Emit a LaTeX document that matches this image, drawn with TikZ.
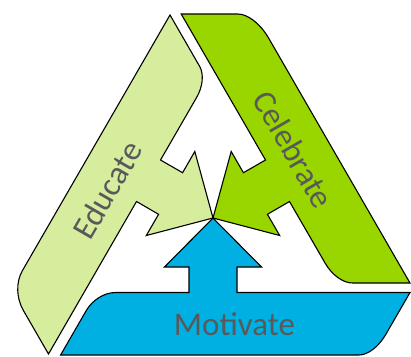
\documentclass[tikz,border=0pt]{standalone}
\usepackage{fontspec}
\setmainfont{Carlito}
\usetikzlibrary{calc}
\definecolor{edfill}{RGB}{214,237,158}
\definecolor{cefill}{RGB}{153,214,0}
\definecolor{mofill}{RGB}{0,176,226}
\definecolor{txtgray}{RGB}{89,89,89}
\begin{document}
\begin{tikzpicture}[x=1pt,y=-1pt,
  band/.style={draw=black,line width=1.1pt,line join=miter},
  lbl/.style={text=txtgray,font=\fontsize{33}{33}\selectfont,inner sep=0pt,text height=21pt,text depth=0pt}]
\useasboundingbox (0,0) rectangle (411,356);
% common arrow tip
\coordinate (T) at (213,218);
% ---- Motivate (bottom)
\coordinate (M1) at (410,292.5);
\coordinate (M2) at (237,292.5);
\coordinate (M3) at (237,267);
\coordinate (M4) at (261.5,267);
\coordinate (M5) at (164.5,267);
\coordinate (M6) at (189,267);
\coordinate (M7) at (189,292.5);
\coordinate (ML1) at (96.7,292.5);
\coordinate (ML2) at (60.6,355);
\coordinate (MR2) at (373.9,355);
\fill[mofill] (M1) -- (M2) -- (M3) -- (M4) -- (T) -- (M5) -- (M6) -- (M7)
  -- ($(ML1)!19pt!(M7)$) .. controls ($(ML1)!7.5pt!(M7)$) and ($(ML1)!8.5pt!(ML2)$) .. ($(ML1)!21pt!(ML2)$)
  -- (ML2)
  -- ($(MR2)!15pt!(ML2)$) .. controls ($(MR2)!6pt!(ML2)$) and ($(MR2)!9.5pt!(M1)$) .. ($(MR2)!24pt!(M1)$)
  -- cycle;
\draw[band] (M1) -- (M2) -- (M3) -- (M4) -- (T) -- (M5) -- (M6) -- (M7)
  -- ($(ML1)!19pt!(M7)$) .. controls ($(ML1)!7.5pt!(M7)$) and ($(ML1)!8.5pt!(ML2)$) .. ($(ML1)!21pt!(ML2)$)
  -- (ML2)
  -- ($(MR2)!15pt!(ML2)$) .. controls ($(MR2)!6pt!(ML2)$) and ($(MR2)!9.5pt!(M1)$) .. ($(MR2)!24pt!(M1)$)
  -- cycle;
% ---- Celebrate (right)
\coordinate (C1) at (181.2,14);
\coordinate (C2) at (254.7,14);
\coordinate (C3) at (410,283);
\coordinate (C4) at (336.6,283);
\coordinate (C5) at (289.5,201.5);
\coordinate (C6) at (267.4,214.3);
\coordinate (C7) at (279.7,235.5);
\coordinate (C8) at (231.2,151.5);
\coordinate (C9) at (243.4,172.7);
\coordinate (C10) at (265.5,160);
\draw[band,fill=cefill] (C1)
  -- ($(C2)!17pt!(C1)$) .. controls ($(C2)!7pt!(C1)$) and ($(C2)!11pt!(C3)$) .. ($(C2)!28pt!(C3)$)
  -- (C3)
  -- ($(C4)!16pt!(C3)$) .. controls ($(C4)!6.5pt!(C3)$) and ($(C4)!9pt!(C5)$) .. ($(C4)!23pt!(C5)$)
  -- (C5) -- (C6) -- (C7) -- (T) -- (C8) -- (C9) -- (C10) -- cycle;
% ---- Educate (left)
\coordinate (E1) at (170,15);
\coordinate (E2) at (207.1,79.3);
\coordinate (E3) at (160.5,160);
\coordinate (E4) at (182.6,172.7);
\coordinate (E5) at (194.8,151.5);
\coordinate (E6) at (146.3,235.5);
\coordinate (E7) at (158.6,214.3);
\coordinate (E8) at (136.5,201.5);
\coordinate (E9) at (48.5,354);
\coordinate (E10) at (11.4,289.7);
\draw[band,fill=edfill] (E1)
  -- ($(E2)!15pt!(E1)$) .. controls ($(E2)!6pt!(E1)$) and ($(E2)!8.5pt!(E3)$) .. ($(E2)!21pt!(E3)$)
  -- (E3) -- (E4) -- (E5) -- (T) -- (E6) -- (E7) -- (E8) -- (E9)
  -- ($(E10)!24pt!(E9)$) .. controls ($(E10)!9.5pt!(E9)$) and ($(E10)!9pt!(E1)$) .. ($(E10)!22pt!(E1)$)
  -- cycle;
% ---- labels
\node[lbl] (tmot) at (234.5,325.3) {Motivate};
\node[lbl,rotate=60] (tedu) at (108,190.5) {Educate};
\node[lbl,rotate=-60] (tcel) at (292.5,150) {Celebrate};
\end{tikzpicture}
\end{document}
